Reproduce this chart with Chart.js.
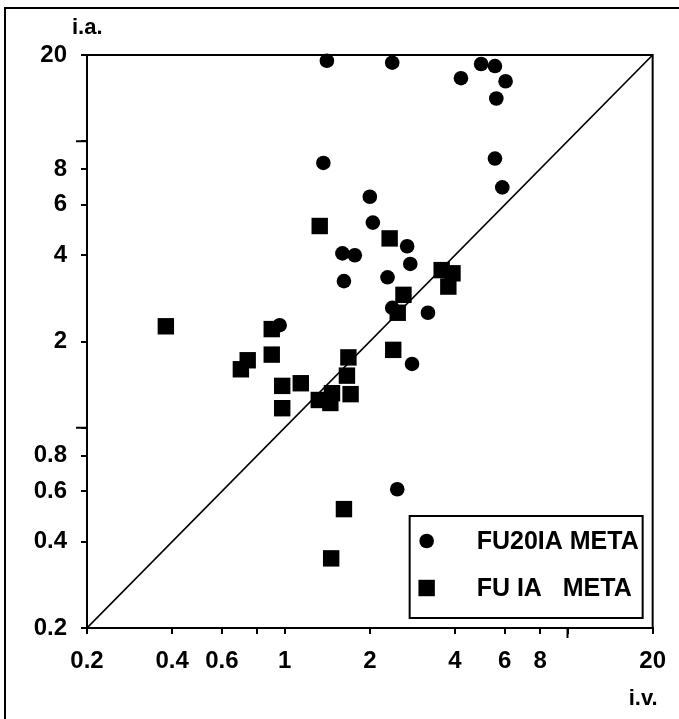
<!DOCTYPE html>
<html>
<head>
<meta charset="UTF-8">
<title>FU20IA META / FU IA META</title>
<script src="https://cdn.jsdelivr.net/npm/chart.js"></script>
<style>
    html, body {
        margin: 0;
        padding: 0;
        background: #fff;
    }
    .wrap {
        position: relative;
        width: 679px;
        height: 719px;
        overflow: hidden;
    }
    .frame {
        position: absolute;
        left: 4px;
        top: 7px;
        right: -10px;
        bottom: -10px;
        border-left: 2px solid #000;
        border-top: 2px solid #000;
        pointer-events: none;
    }
    canvas {
        position: absolute;
        left: 0;
        top: 0;
    }
</style>
</head>
<body>
<div class="wrap">
    <canvas id="chart" width="679" height="719"></canvas>
    <div class="frame"></div>
</div>
<script>
    // FU20IA META (circles)
    const circleX = [1.41, 2.40, 4.95, 5.54, 4.20, 6.04, 5.60, 1.37, 5.54, 5.88, 2.00, 2.05,
                     2.71, 1.60, 1.77, 2.78, 1.62, 2.31, 2.40, 3.21, 2.82, 0.96, 2.50];
    const circleY = [19.1, 18.8, 18.6, 18.3, 16.6, 16.2, 14.1, 8.4, 8.7, 6.9, 6.4, 5.2,
                     4.3, 4.06, 4.0, 3.73, 3.25, 3.35, 2.62, 2.52, 1.67, 2.28, 0.61];

    // FU IA META (squares)
    const squareX = [0.38, 0.90, 0.74, 0.70, 0.90, 0.98, 1.14, 0.98, 1.32, 1.47, 1.45, 1.68,
                     1.66, 1.71, 1.33, 2.35, 3.59, 3.92, 3.79, 2.63, 2.51, 2.42, 1.62, 1.46];
    const squareY = [2.26, 2.21, 1.72, 1.60, 1.80, 1.40, 1.43, 1.17, 1.25, 1.32, 1.22, 1.76,
                     1.52, 1.31, 5.06, 4.58, 3.55, 3.46, 3.11, 2.91, 2.52, 1.87, 0.52, 0.35];

    const seriesNames = ['FU20IA META', 'FU IA   META'];

    // axes
    const tickValues = [0.2, 0.4, 0.6, 0.8, 1, 2, 4, 6, 8, 10, 20];
    const xTickLabels = ['0.2', '0.4', '0.6', '', '1', '2', '4', '6', '8', '', '20'];
    const yTickLabels = ['0.2', '0.4', '0.6', '0.8', '', '2', '4', '6', '8', '', '20'];
    const xLongTicks = [10];
    const yLongTicks = [1, 10];
    const axisMin = 0.2, axisMax = 20;
    const xTitle = 'i.v.';
    const yTitle = 'i.a.';

    const FONT = '"Liberation Sans", Arial, sans-serif';

    const toPoints = (xs, ys) => xs.map((x, i) => ({ x: x, y: ys[i] }));

    const frameAndExtras = {
        id: 'frameAndExtras',
        beforeDatasetsDraw(chart) {
            const { ctx, chartArea: a } = chart;
            ctx.save();
            ctx.strokeStyle = '#000';
            ctx.lineWidth = 2;
            ctx.strokeRect(a.left, a.top, a.right - a.left, a.bottom - a.top);
            ctx.restore();
        },
        afterDraw(chart) {
            const { ctx, chartArea: a, scales } = chart;
            ctx.save();
            ctx.strokeStyle = '#000';
            ctx.lineWidth = 2;

            // longer ticks at the decades
            yLongTicks.forEach(v => {
                const py = scales.y.getPixelForValue(v);
                ctx.beginPath();
                ctx.moveTo(a.left, py);
                ctx.lineTo(a.left - 11, py);
                ctx.stroke();
            });
            xLongTicks.forEach(v => {
                const px = scales.x.getPixelForValue(v);
                ctx.beginPath();
                ctx.moveTo(px, a.bottom);
                ctx.lineTo(px, a.bottom + 10);
                ctx.stroke();
            });

            // axis names
            ctx.fillStyle = '#000';
            ctx.font = 'bold 22px ' + FONT;
            ctx.textBaseline = 'alphabetic';
            ctx.textAlign = 'left';
            ctx.fillText(yTitle, a.left - 15, a.top - 21);
            ctx.textAlign = 'right';
            ctx.fillText(xTitle, a.right + 5, a.bottom + 77);

            // legend box
            const bw = 233, bh = 102;
            const bx = a.right - 10 - bw, by = a.bottom - 10 - bh;
            ctx.fillStyle = '#fff';
            ctx.fillRect(bx, by, bw, bh);
            ctx.strokeRect(bx, by, bw, bh);

            ctx.fillStyle = '#000';
            ctx.font = 'bold 25px ' + FONT;
            ctx.textAlign = 'left';
            ctx.textBaseline = 'middle';
            const rows = [by + 25, by + 72];
            chart.data.datasets.forEach((ds, i) => {
                if (i > 1) return;
                const my = rows[i];
                const mx = bx + 17;
                if (ds.pointStyle === 'circle') {
                    ctx.beginPath();
                    ctx.arc(mx, my, ds.pointRadius, 0, Math.PI * 2);
                    ctx.fill();
                } else {
                    const s = ds.pointRadius * Math.SQRT1_2;
                    ctx.fillRect(mx - s, my - s, 2 * s, 2 * s);
                }
                ctx.fillText(ds.label, bx + 67, my + 1);
            });
            ctx.restore();
        }
    };

    function logAxis(labels) {
        return {
            type: 'logarithmic',
            min: axisMin,
            max: axisMax,
            afterBuildTicks(scale) {
                scale.ticks = tickValues.map(v => ({ value: v }));
            },
            ticks: {
                autoSkip: false,
                maxRotation: 0,
                color: '#000',
                font: { family: FONT, size: 24, weight: 'bold' },
                padding: 13,
                callback: (value, index) => labels[index]
            },
            grid: {
                display: true,
                drawOnChartArea: false,
                drawTicks: true,
                tickLength: 6,
                color: '#000',
                lineWidth: 2
            },
            border: { display: true, color: '#000', width: 2 }
        };
    }

    const xAxis = logAxis(xTickLabels);
    xAxis.afterFit = scale => { scale.height = 91; };
    const yAxis = logAxis(yTickLabels);
    yAxis.ticks.padding = 14;
    yAxis.afterFit = scale => { scale.width = 87; };

    new Chart(document.getElementById('chart'), {
        type: 'scatter',
        data: {
            datasets: [
                {
                    label: seriesNames[0],
                    data: toPoints(circleX, circleY),
                    pointStyle: 'circle',
                    pointRadius: 7.3,
                    backgroundColor: '#000',
                    borderColor: '#000',
                    borderWidth: 0,
                    clip: false
                },
                {
                    label: seriesNames[1],
                    data: toPoints(squareX, squareY),
                    pointStyle: 'rect',
                    pointRadius: 11.6,
                    backgroundColor: '#000',
                    borderColor: '#000',
                    borderWidth: 0,
                    clip: false
                },
                {
                    type: 'line',
                    label: 'y = x',
                    data: [{ x: axisMin, y: axisMin }, { x: axisMax, y: axisMax }],
                    borderColor: '#000',
                    borderWidth: 1.6,
                    pointRadius: 0,
                    fill: false
                }
            ]
        },
        options: {
            responsive: false,
            devicePixelRatio: 1,
            animation: false,
            events: [],
            layout: { padding: { top: 55, right: 24, left: 0, bottom: 0 } },
            scales: { x: xAxis, y: yAxis },
            plugins: {
                legend: { display: false },
                tooltip: { enabled: false }
            }
        },
        plugins: [frameAndExtras]
    });
</script>
</body>
</html>
